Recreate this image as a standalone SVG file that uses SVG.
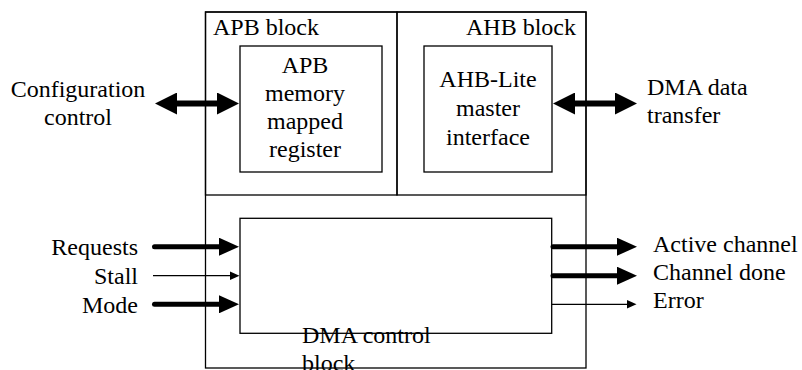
<svg xmlns="http://www.w3.org/2000/svg" width="802" height="370" viewBox="0 0 802 370">
<style>
.box{fill:none;stroke:#000;stroke-width:1.3}
text{font-size:24px;fill:#000}
.c{text-anchor:middle}
.r{text-anchor:end}
.thick{stroke:#000;stroke-width:5;stroke-linecap:round;fill:none}
.dbl{stroke:#000;stroke-width:6;fill:none}
.thin{stroke:#000;stroke-width:1.2;fill:none}
</style>
<defs>
<marker id="hd" viewBox="0 -11 22 22" markerWidth="22" markerHeight="22" refX="1" refY="0" orient="auto-start-reverse" markerUnits="userSpaceOnUse"><path d="M0,-11 L22,0 L0,11 z" fill="#000"/></marker>
<marker id="ht" viewBox="0 -9 20 18" markerWidth="20" markerHeight="18" refX="1" refY="0" orient="auto" markerUnits="userSpaceOnUse"><path d="M0,-9 L20,0 L0,9 z" fill="#000"/></marker>
<marker id="hs" viewBox="0 -4.5 10 9" markerWidth="10" markerHeight="9" refX="0.5" refY="0" orient="auto" markerUnits="userSpaceOnUse"><path d="M0,-4.5 L10,0 L0,4.5 z" fill="#000"/></marker>
</defs>
<g font-family="Liberation Serif, Times New Roman, Tinos, Noto Serif, DejaVu Serif, serif">
<g id="outer-frame">
<rect class="box" x="205.5" y="12" width="380.5" height="356"/>
</g>
<g id="apb-block">
<rect class="box" x="205.5" y="12" width="191.5" height="183"/>
<text x="213" y="35">APB block</text>
</g>
<g id="ahb-block">
<rect class="box" x="397" y="12" width="189" height="183"/>
<text class="r" x="576" y="35">AHB block</text>
</g>
<g id="apb-register">
<rect class="box" x="240" y="46" width="142" height="126"/>
<text class="c" x="305" y="73">APB</text>
<text class="c" x="305" y="101">memory</text>
<text class="c" x="305" y="129">mapped</text>
<text class="c" x="305" y="157">register</text>
</g>
<g id="ahb-master">
<rect class="box" x="424" y="46" width="128" height="126"/>
<text class="c" x="488" y="87">AHB-Lite</text>
<text class="c" x="488" y="116">master</text>
<text class="c" x="488" y="145">interface</text>
</g>
<g id="dma-control">
<rect class="box" x="240" y="218.3" width="311.7" height="115"/>
<text x="302" y="343">DMA control</text>
<text x="302" y="371">block</text>
</g>
<g id="labels">
<text class="c" x="78" y="97">Configuration</text>
<text class="c" x="78" y="125">control</text>
<text x="647" y="95">DMA data</text>
<text x="647" y="123">transfer</text>
<text class="r" x="138" y="255">Requests</text>
<text class="r" x="138" y="284">Stall</text>
<text class="r" x="138" y="313">Mode</text>
<text x="653" y="252">Active channel</text>
<text x="653" y="280">Channel done</text>
<text x="653" y="308">Error</text>
</g>
<g id="connectors">
<line class="dbl" x1="176" y1="103.5" x2="218" y2="103.5" marker-start="url(#hd)" marker-end="url(#hd)"/>
<line class="dbl" x1="574" y1="103.5" x2="616" y2="103.5" marker-start="url(#hd)" marker-end="url(#hd)"/>
<line class="thick" x1="154.5" y1="246.7" x2="220" y2="246.7" marker-end="url(#ht)"/>
<line class="thin" x1="153" y1="275.7" x2="230" y2="275.7" marker-end="url(#hs)"/>
<line class="thick" x1="154.5" y1="304.3" x2="220" y2="304.3" marker-end="url(#ht)"/>
<line class="thick" x1="553" y1="246.7" x2="618" y2="246.7" marker-end="url(#ht)"/>
<line class="thick" x1="553" y1="275.7" x2="618" y2="275.7" marker-end="url(#ht)"/>
<line class="thin" x1="552" y1="304.3" x2="627" y2="304.3" marker-end="url(#hs)"/>
</g>
</g>
</svg>
